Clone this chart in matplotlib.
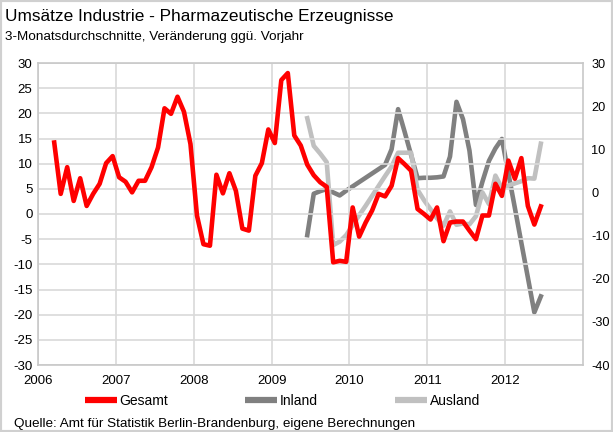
import matplotlib
matplotlib.use("Agg")
import matplotlib.pyplot as plt
import numpy as np
from matplotlib.lines import Line2D
from matplotlib.patches import Rectangle

plt.rcParams['font.family'] = ['Liberation Sans', 'DejaVu Sans']
plt.rcParams['axes.unicode_minus'] = False

# ---- data (3-month averages, % change vs previous year) ----
title = "Umsätze Industrie - Pharmazeutische Erzeugnisse"
subtitle = "3-Monatsdurchschnitte, Veränderung ggü. Vorjahr"
source = "Quelle: Amt für Statistik Berlin-Brandenburg, eigene Berechnungen"
series_names = ["Gesamt", "Inland", "Ausland"]
year_labels = ["2006", "2007", "2008", "2009", "2010", "2011", "2012"]

gesamt_start = (2006, 3)
gesamt = [14.2, 4.0, 9.3, 2.6, 7.1, 1.6, 4.0, 6.0, 10.1, 11.5,
          7.3, 6.4, 4.3, 6.6, 6.6, 9.3, 13.2, 21.0, 19.9, 23.3, 20.3, 13.9,
          -0.3, -6.0, -6.3, 7.8, 4.1, 8.1, 4.6, -2.9, -3.3, 7.6, 10.1, 16.8,
          14.1, 26.6, 28.0, 15.6, 13.6, 9.8, 7.7, 6.3, 5.4, -9.6, -9.3, -9.5,
          1.3, -4.5, -1.7, 0.7, 4.0, 3.5, 5.6, 11.1, 9.9, 8.6, 1.0, 0.0,
          -1.1, 1.3, -5.4, -1.7, -1.5, -1.5, -3.3, -5.0, -0.3, -0.3, 6.0, 3.6,
          10.6, 7.0, 11.1, 1.6, -2.1, 1.5]

inland_start = (2009, 6)
inland = [-9.9, -0.3, 0.3, 0.8, 0.0, -0.7, 0.4,
          1.4, 2.4, 3.4, 4.4, 5.4, 6.4, 10.0, 19.3, 14.1, 8.7, 3.3, 3.4,
          3.4, 3.5, 3.7, 8.3, 21.0, 17.0, 9.7, -2.9, 2.5, 7.3, 10.2, 12.4,
          4.4, -3.6, -11.7, -19.7, -27.8, -24.1]

ausland_start = (2009, 6)
ausland = [17.2, 10.8, 9.0, 7.0, -12.2, -11.4, -9.9,
           -7.6, -5.3, -3.1, -0.8, 1.5, 3.8, 6.0, 9.2, 9.2, 9.2, 0.6, -1.8,
           -3.9, -6.0, -7.7, -4.4, -7.5, -7.2, -7.4, -5.5, 0.0, -2.7, 3.9, 1.0,
           1.6, 2.1, 2.6, 3.3, 3.2, 11.3]

colors = {"Gesamt": "#FF0000", "Inland": "#808080", "Ausland": "#C0C0C0"}


def xpos(start, n):
    y, m = start
    return y + (m - 1 + 0.5 + np.arange(n)) / 12.0


fig = plt.figure(figsize=(6.13, 4.32), dpi=100)
fig.patches.append(Rectangle((0, 0), 1, 1, transform=fig.transFigure,
                             fill=False, edgecolor="#D0D0D0", lw=3, zorder=0))

ax = fig.add_axes([38 / 613, 1 - 365 / 432, (583 - 38) / 613, (365 - 63) / 432])
ax2 = ax.twinx()

grid_c = "#D9D9D9"
ax.set_xlim(2006, 2013)
ax.set_ylim(-30, 30)
ax.set_yticks(np.arange(-30, 31, 5))
ax.set_xticks(np.arange(2006, 2013))
ax.set_xticklabels(year_labels)
ax.grid(True, color=grid_c, lw=1.2)
ax.set_axisbelow(True)
for s in ax.spines.values():
    s.set_color("#C8C8C8")
    s.set_linewidth(1.2)
for s in ax2.spines.values():
    s.set_visible(False)
ax.tick_params(length=0, labelsize=9.5, pad=4)
ax.tick_params(axis='x', pad=7)

ax2.set_ylim(-40, 30)
ax2.set_yticks(np.arange(-40, 31, 10))
ax2.tick_params(length=0, labelsize=9.2, pad=6)

lw = 3.3
ax.plot(xpos(gesamt_start, len(gesamt)), gesamt, color=colors["Gesamt"], lw=lw,
        solid_joinstyle="round", zorder=3)
ax2.plot(xpos(inland_start, len(inland)), inland, color=colors["Inland"], lw=lw,
         solid_joinstyle="round", zorder=2)
ax2.plot(xpos(ausland_start, len(ausland)), ausland, color=colors["Ausland"], lw=lw,
         solid_joinstyle="round", zorder=2)
ax.set_zorder(ax2.get_zorder() + 1)
ax.patch.set_visible(False)

fig.text(5 / 613, 1 - 17 / 432, title, fontsize=12.4, va="center", ha="left")
fig.text(5 / 613, 1 - 37 / 432, subtitle, fontsize=9.7, va="center", ha="left")
fig.text(14 / 613, 1 - 424 / 432, source, fontsize=9.7, va="center", ha="left")

leg_x = [85, 245, 395]
for name, lx in zip(series_names, leg_x):
    h = Line2D([], [], color=colors[name], lw=4.5, solid_capstyle="butt")
    leg = fig.legend([h], [name], loc="center left",
                     bbox_to_anchor=(lx / 613, 1 - 401 / 432),
                     frameon=False, fontsize=10, handlelength=2.3,
                     handletextpad=0.2, borderpad=0, borderaxespad=0)

fig.savefig("out.png", dpi=100)
